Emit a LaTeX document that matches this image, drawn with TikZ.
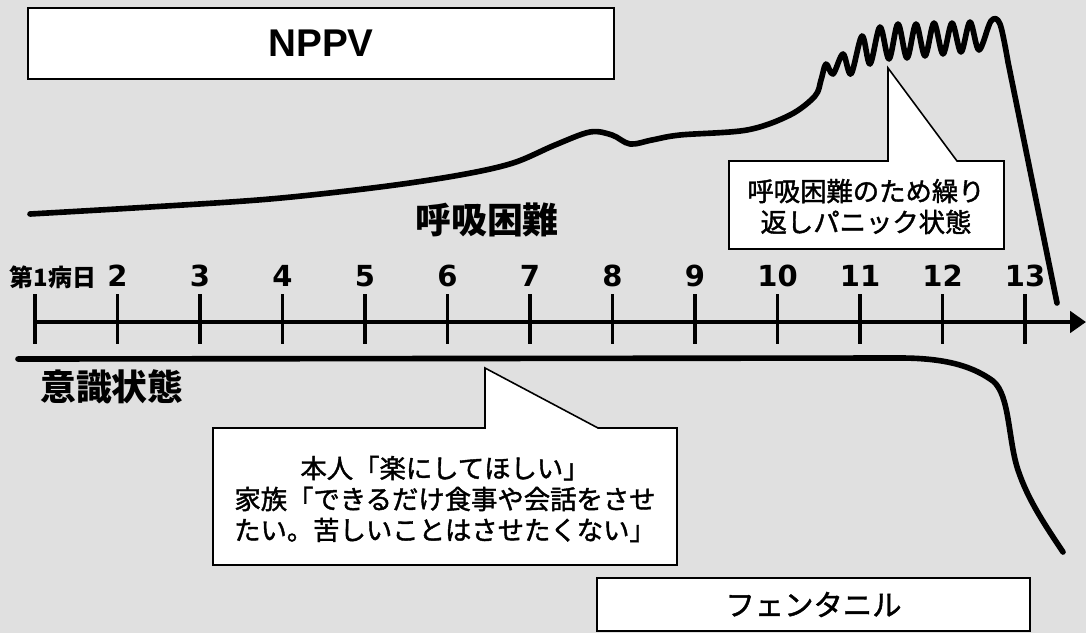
\documentclass[tikz,border=0pt]{standalone}
\usepackage{fontspec}
\setmainfont{Liberation Sans}
\newfontfamily\numfont{DejaVu Sans}
\newfontfamily\jp{Noto Sans CJK JP}
\newfontfamily\jpm{Noto Sans CJK JP}[FakeBold=1.5]
\usetikzlibrary{arrows.meta}
\definecolor{bgc}{gray}{0.88}
\begin{document}
\begin{tikzpicture}[x=0.02cm,y=-0.02cm,
  box/.style={draw=black, line width=0.9pt, fill=white},
  curve/.style={line width=3.2pt, line cap=round, line join=round},
  axisline/.style={line width=2.4pt, -{Triangle[length=9pt,width=12pt]}},
  tickmark/.style={line width=2pt},
  num/.style={font=\numfont\bfseries\fontsize{16.5}{18}\selectfont, anchor=base, inner sep=0pt},
  daylab/.style={font=\jp\bfseries\fontsize{13.6}{15}\selectfont, anchor=base, inner sep=0pt},
  biglab/.style={font=\jp\bfseries\fontsize{20.4}{22}\selectfont, inner sep=0pt},
  ctext/.style={font=\jpm\fontsize{15}{17.6}\selectfont, align=center, inner sep=0pt}
]
\useasboundingbox (0,0) rectangle (1086,633);
\fill[bgc] (0,0) rectangle (1086,633);

% NPPV box
\node[box, minimum width=11.72cm, minimum height=1.42cm,
      font=\fontsize{22}{26}\selectfont\bfseries] (nppv) at (321,43.5) {NPPV};

% breathing difficulty curve
\draw[curve] plot[smooth, tension=0.55] coordinates {(30,214) (150,207) (270,199) (380,187) (460,175) (513,163) (555,145) (590,132) (612,135) (630,144) (652,140) (680,135) (747,130) (790,115) (815,96) (821,80) (826,64) (833,74) (843,54) (851,74) (862,36) (870,64) (880,27) (889,59) (898,24) (907,58) (916,24) (925,56) (934,23) (943,54) (952,23) (961,52) (970,22) (979,50) (991,21) (1000,24) (1008,62)} -- (1057,303);

% callout 1
\draw[box] (729,161) -- (888,161) -- (888,68) -- (957,161) -- (1004,161) -- (1004,249) -- (729,249) -- cycle;
\node[ctext] (c1) at (866,206.5) {呼吸困難のため繰り\\返しパニック状態};

\node[biglab] (kokyu) at (487,220) {呼吸困難};

% axis
\coordinate (ax0) at (35,322);
\coordinate (ax1) at (1086,322);
\draw[axisline] (ax0) -- (ax1);
\foreach \i in {1,...,13}{
  \draw[tickmark] ({35+82.5*(\i-1)},294) -- ++(0,50);
}
\node[daylab] (d1) at (53,286) {第1病日};
\foreach \i in {2,...,13}{
  \node[num] (d\i) at ({35+82.5*(\i-1)},286) {\i};
}

% consciousness curve
\draw[curve] (18,359) -- (900,358) .. controls (950,358) and (975,368) .. (993,381) .. controls (1010,395) and (1008,440) .. (1018,470) .. controls (1028,500) and (1045,525) .. (1063,552);
\node[biglab] (ishiki) at (112,387) {意識状態};

% callout 2
\draw[box] (213,428) -- (485,428) -- (485,368) -- (598,428) -- (677,428) -- (677,565) -- (213,565) -- cycle;
\node[ctext] (c2) at (445,499) {本人「楽にしてほしい」\\家族「できるだけ食事や会話をさせ\\たい。苦しいことはさせたくない」};

% fentanyl box
\node[box, minimum width=8.66cm, minimum height=1.06cm,
      font=\jpm\fontsize{16.7}{19}\selectfont] (fent) at (813.5,604.5) {フェンタニル};
\end{tikzpicture}
\end{document}
